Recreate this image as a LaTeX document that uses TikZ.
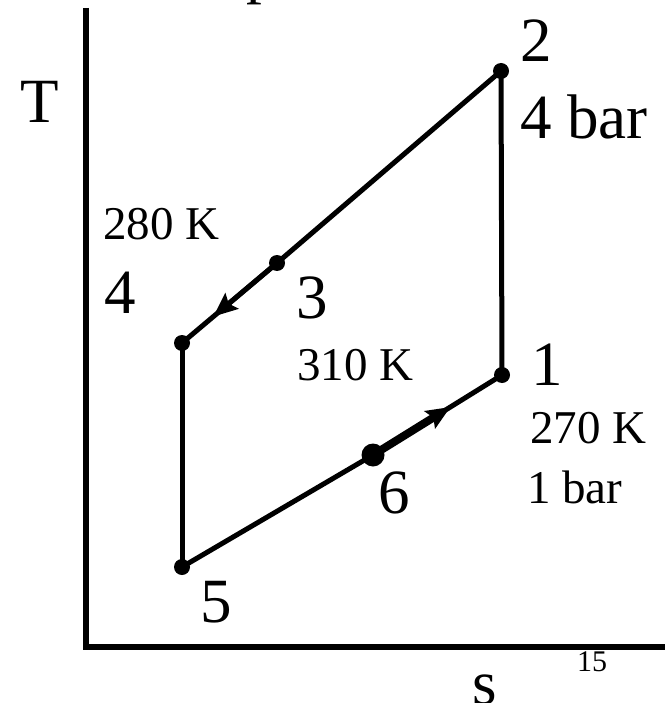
\documentclass[tikz,border=0pt]{standalone}
\usepackage{fontspec}
\setmainfont{Liberation Serif}
\usetikzlibrary{arrows.meta,calc}
\begin{document}
\begin{tikzpicture}[x=1pt,y=-1pt,
  dot/.style={circle,fill=black,inner sep=0pt,minimum size=16pt},
  bigdot/.style={circle,fill=black,inner sep=0pt,minimum size=23pt},
  big/.style={font=\fontsize{63}{63}\selectfont,inner sep=0pt,anchor=base west},
  small/.style={font=\fontsize{47}{47}\selectfont,inner sep=0pt,anchor=base west},
  tiny/.style={font=\fontsize{30}{30}\selectfont,inner sep=0pt,anchor=base west},
  cyc/.style={line width=5pt},
  axis/.style={line width=6pt},
  tip/.style={-{Stealth[length=24pt,width=20pt,inset=4pt]}}]
\useasboundingbox (0,0) rectangle (664,703);
% axes
\coordinate (ytop) at (85.5,8);
\coordinate (corner) at (85.5,647);
\coordinate (xend) at (670,647);
\draw[axis] (ytop) -- (corner) -- (xend);
% state points
\node[dot] (n1) at (502,375) {};
\node[dot] (n2) at (501,71) {};
\node[dot] (n3) at (277,263) {};
\node[dot] (n4) at (182,343) {};
\node[dot] (n5) at (182,567) {};
\node[bigdot] (n6) at (373,455) {};
% cycle
\draw[cyc] (n1.center) -- (n2.center);
\draw[cyc] (n2.center) -- (n3.center);
\draw[cyc] (n3.center) -- (n4.center);
\draw[cyc] (n4.center) -- (n5.center);
\draw[cyc] (n5.center) -- (n6.center);
\draw[cyc] (n6.center) -- (n1.center);
\coordinate (a34) at ($(n3.center)!0.67!(n4.center)$);
\coordinate (a61) at ($(n6.center)!0.6!(n1.center)$);
\draw[cyc,tip] (n3.center) -- (a34);
\draw[line width=8pt,tip] (n6.center) -- (a61);
% labels
\node[big] (pfrag) at (246,-8) {p};
\node[big] (lT) at (20,123) {T};
\node[big] (l2) at (520,62) {2};
\node[big] (l4bar) at (520,139) {4 bar};
\node[small] (l280) at (103,240) {280 K};
\node[big] (l4) at (104,313) {4};
\node[big] (l3) at (296,318) {3};
\node[small] (l310) at (297,380) {310 K};
\node[big] (l1) at (531,385) {1};
\node[small] (l270) at (530,443) {270 K};
\node[small] (l1bar) at (527,503) {1 bar};
\node[big] (l6) at (378,513) {6};
\node[big] (l5) at (200,622) {5};
\node[big] (ls) at (472,704) {s};
\node[tiny] (l15) at (577,671) {15};
\end{tikzpicture}
\end{document}
